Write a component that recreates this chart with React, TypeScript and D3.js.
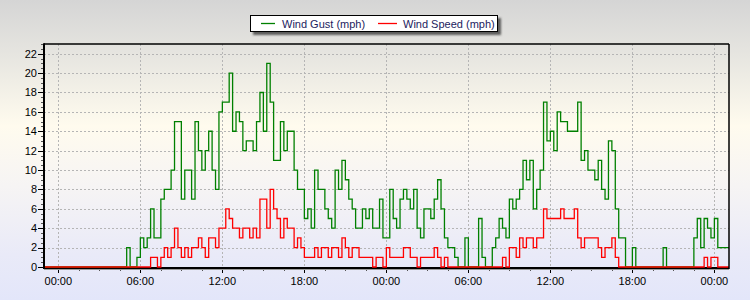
import React from "react";
import * as d3 from "d3";

// Time grid: first sample at -1 h (23:00 of the previous day), one value every 15 minutes
const START_HOUR = -1;
const STEP_HOURS = 0.25;
const X_DOMAIN: [number, number] = [-1.05, 49.07];
const Y_DOMAIN: [number, number] = [0, 23];

const yTickValues = [0, 2, 4, 6, 8, 10, 12, 14, 16, 18, 20, 22];
const xTickHours = [0, 6, 12, 18, 24, 30, 36, 42, 48];
const xTickLabels = ["00:00", "06:00", "12:00", "18:00", "00:00", "06:00", "12:00", "18:00", "00:00"];

const seriesNames = ["Wind Gust (mph)", "Wind Speed (mph)"];
const seriesColors = ["#008000", "#ff0000"];

// Wind gust (mph), 4 values per hour
const gust = [
  0, 0, 0, 0, // -1
  0, 0, 0, 0, // 0
  0, 0, 0, 0, // 1
  0, 0, 0, 0, // 2
  0, 0, 0, 0, // 3
  0, 0, 0, 0, // 4
  2, 0, 0, 1, // 5
  3, 2, 3, 6, // 6
  3, 3, 7, 8, // 7
  8, 10, 15, 15, // 8
  7, 10, 10, 7, // 9
  15, 12, 10, 12, // 10
  14, 10, 8, 16, // 11
  17, 17, 20, 14, // 12
  16, 15, 12, 13, // 13
  13, 12, 15, 18, // 14
  14, 21, 17, 11, // 15
  11, 15, 12, 14, // 16
  14, 10, 8, 8, // 17
  5, 6, 4, 10, // 18
  8, 8, 6, 5, // 19
  4, 10, 8, 11, // 20
  9, 7, 6, 4, // 21
  4, 6, 5, 6, // 22
  4, 4, 7, 3, // 23
  3, 8, 5, 4, // 24
  7, 8, 7, 6, // 25
  8, 4, 3, 6, // 26
  6, 5, 7, 9, // 27
  6, 3, 2, 2, // 28
  1, 0, 0, 3, // 29
  0, 0, 0, 5, // 30
  1, 0, 0, 2, // 31
  3, 5, 4, 3, // 32
  7, 6, 7, 8, // 33
  11, 9, 11, 6, // 34
  8, 10, 17, 13, // 35
  14, 12, 16, 15, // 36
  15, 14, 14, 14, // 37
  17, 11, 12, 10, // 38
  10, 9, 11, 8, // 39
  7, 13, 12, 6, // 40
  3, 3, 0, 0, // 41
  2, 0, 0, 0, // 42
  0, 0, 0, 0, // 43
  0, 2, 0, 0, // 44
  0, 0, 0, 0, // 45
  0, 0, 3, 5, // 46
  2, 5, 4, 3, // 47
  5, 2, 2, 2, // 48
];

// Wind speed (mph), 4 values per hour
const speed = [
  0, 0, 0, 0, // -1
  0, 0, 0, 0, // 0
  0, 0, 0, 0, // 1
  0, 0, 0, 0, // 2
  0, 0, 0, 0, // 3
  0, 0, 0, 0, // 4
  0, 0, 0, 0, // 5
  0, 0, 0, 1, // 6
  1, 0, 1, 2, // 7
  1, 2, 4, 2, // 8
  1, 2, 1, 2, // 9
  2, 3, 2, 1, // 10
  3, 3, 2, 4, // 11
  4, 6, 5, 4, // 12
  4, 3, 4, 4, // 13
  3, 4, 3, 7, // 14
  7, 4, 8, 6, // 15
  5, 3, 5, 4, // 16
  4, 2, 3, 2, // 17
  1, 1, 1, 2, // 18
  1, 2, 2, 1, // 19
  2, 2, 1, 3, // 20
  2, 1, 2, 2, // 21
  1, 1, 1, 1, // 22
  0, 1, 1, 0, // 23
  2, 1, 1, 1, // 24
  1, 2, 2, 1, // 25
  1, 0, 1, 1, // 26
  1, 1, 2, 1, // 27
  0, 1, 0, 0, // 28
  0, 0, 0, 0, // 29
  0, 0, 0, 0, // 30
  0, 0, 0, 0, // 31
  0, 0, 1, 0, // 32
  2, 2, 1, 3, // 33
  2, 3, 3, 2, // 34
  3, 3, 6, 5, // 35
  5, 5, 5, 6, // 36
  5, 5, 5, 6, // 37
  3, 2, 3, 3, // 38
  3, 3, 2, 1, // 39
  2, 2, 3, 1, // 40
  0, 0, 0, 0, // 41
  0, 0, 0, 0, // 42
  0, 0, 0, 0, // 43
  0, 0, 0, 0, // 44
  0, 0, 0, 0, // 45
  0, 0, 0, 0, // 46
  0, 1, 0, 1, // 47
  1, 0, 0, 0, // 48
];

const FONT = "'Liberation Sans', Arial, sans-serif";

export default function App() {
  const W = 750, H = 300;
  const left = 44, right = 729, top = 44, bottom = 267;

  const x = d3.scaleLinear().domain(X_DOMAIN).range([left, right]);
  const y = d3.scaleLinear().domain(Y_DOMAIN).range([bottom, top]);

  const toPts = (vals: number[]) => {
    const pts: [number, number][] = vals.map((v, i) => [START_HOUR + i * STEP_HOURS, v]);
    pts.unshift([X_DOMAIN[0], vals[0]]);
    pts.push([X_DOMAIN[1], vals[vals.length - 1]]);
    return pts;
  };
  const line = d3
    .line<[number, number]>()
    .x((d) => x(d[0]))
    .y((d) => y(d[1]))
    .curve(d3.curveStepAfter);

  const yMinor = d3.range(0, 23.01, 0.5);
  const xMinor = d3.range(0, 48.01, 1.5);

  return (
    <svg
      width={W}
      height={H}
      style={{ position: "fixed", left: 0, top: 0, display: "block" }}
      fontFamily={FONT}
    >
      <defs>
        <linearGradient id="bg" x1="0" y1="0" x2="0" y2="1">
          <stop offset="0" stopColor="#d5d5d5" />
          <stop offset="0.18" stopColor="#e6e5e0" />
          <stop offset="0.42" stopColor="#fffbee" />
          <stop offset="0.62" stopColor="#f6f4f4" />
          <stop offset="0.85" stopColor="#e9eaf8" />
          <stop offset="1" stopColor="#e3e6fa" />
        </linearGradient>
        <filter id="blur" x="-10%" y="-50%" width="120%" height="200%">
          <feGaussianBlur stdDeviation="1" />
        </filter>
      </defs>
      <rect x={0} y={0} width={W} height={H} fill="url(#bg)" />

      {/* grid */}
      <g stroke="#b5b5b5" strokeWidth={1} strokeDasharray="2,2">
        {yTickValues.filter((v) => v > 0).map((v) => (
          <line key={"gy" + v} x1={left} x2={right} y1={Math.round(y(v)) + 0.5} y2={Math.round(y(v)) + 0.5} />
        ))}
        {xTickHours.map((h) => (
          <line key={"gx" + h} x1={Math.round(x(h)) + 0.5} x2={Math.round(x(h)) + 0.5} y1={top} y2={bottom} />
        ))}
      </g>

      {/* axes ticks */}
      <g stroke="#000" strokeWidth={1}>
        {yMinor.map((v) => (
          <line key={"ym" + v} x1={left - 3} x2={left} y1={Math.round(y(v)) + 0.5} y2={Math.round(y(v)) + 0.5} stroke="#555" />
        ))}
        {yTickValues.map((v) => (
          <line key={"yt" + v} x1={left - 6} x2={left} y1={Math.round(y(v)) + 0.5} y2={Math.round(y(v)) + 0.5} />
        ))}
        {xMinor.map((h) => (
          <line key={"xm" + h} x1={Math.round(x(h)) + 0.5} x2={Math.round(x(h)) + 0.5} y1={bottom} y2={bottom + 4} stroke="#555" />
        ))}
        {xTickHours.map((h) => (
          <line key={"xt" + h} x1={Math.round(x(h)) + 0.5} x2={Math.round(x(h)) + 0.5} y1={bottom} y2={bottom + 6} />
        ))}
      </g>

      {/* bottom axis line */}
      <line x1={left} x2={right} y1={bottom + 1} y2={bottom + 1} stroke="#000" strokeWidth={2} />
      <line x1={left} x2={right} y1={bottom + 2.5} y2={bottom + 2.5} stroke="#9a9a9a" strokeWidth={1} />

      {/* series */}
      <path d={line(toPts(gust)) || ""} fill="none" stroke={seriesColors[0]} strokeWidth={1.3} />
      <path d={line(toPts(speed)) || ""} fill="none" stroke={seriesColors[1]} strokeWidth={1.3} />

      {/* frame */}
      <line x1={left} x2={right} y1={top} y2={top} stroke="#000" strokeWidth={1.5} />
      <line x1={right} x2={right} y1={top} y2={bottom + 2} stroke="#000" strokeWidth={1.5} />
      <line x1={left} x2={left} y1={top - 0.75} y2={bottom + 2} stroke="#000" strokeWidth={2} />

      {/* labels */}
      <g fontSize={11} fill="#000">
        {yTickValues.map((v) => (
          <text key={"yl" + v} x={left - 7} y={y(v)} dy="0.35em" textAnchor="end">
            {v}
          </text>
        ))}
        {xTickHours.map((h, i) => (
          <text key={"xl" + i} x={x(h)} y={284.5} textAnchor="middle">
            {xTickLabels[i]}
          </text>
        ))}
      </g>

      {/* legend */}
      <g>
        <rect x={253} y={18} width={248} height={17} fill="#333" opacity={0.75} filter="url(#blur)" />
        <rect x={250.5} y={15.5} width={247} height={16} fill="#fff" stroke="#000" strokeWidth={1} />
        <line x1={261} x2={275} y1={23.5} y2={23.5} stroke={seriesColors[0]} strokeWidth={1.3} />
        <text x={282} y={27.5} fontSize={11} fill="#1c1c5e">
          {seriesNames[0]}
        </text>
        <line x1={378} x2={397} y1={23.5} y2={23.5} stroke={seriesColors[1]} strokeWidth={1.3} />
        <text x={403} y={27.5} fontSize={11} fill="#1c1c5e">
          {seriesNames[1]}
        </text>
      </g>
    </svg>
  );
}
